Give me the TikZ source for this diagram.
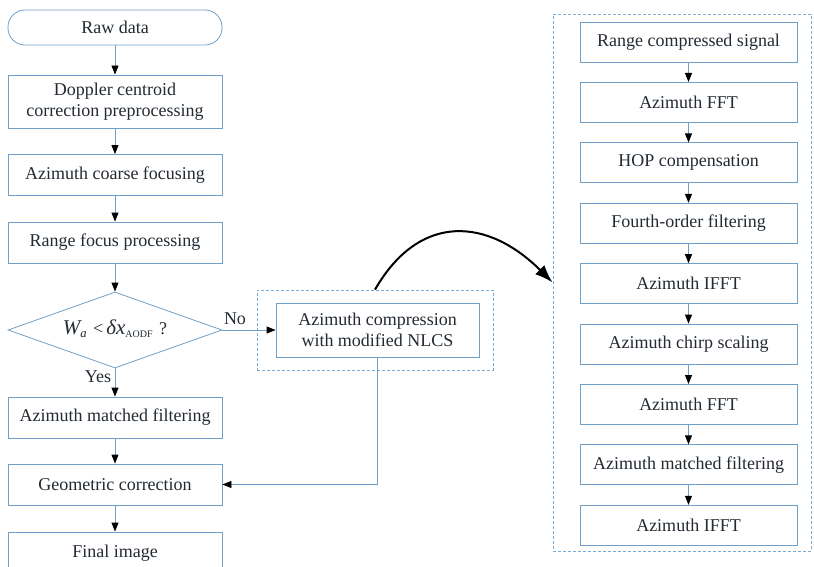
\documentclass[tikz,border=0pt]{standalone}
\usepackage{fontspec}
\setmainfont{Liberation Serif}
\usetikzlibrary{shapes.geometric,arrows.meta}
\definecolor{boxblue}{RGB}{112,160,200}
\definecolor{dashblue}{RGB}{125,170,210}
\definecolor{inkgray}{RGB}{35,42,50}

\begin{document}
\begin{tikzpicture}[x=1pt,y=-1pt,
  every node/.style={text=inkgray,font=\rmfamily\fontsize{18}{21}\selectfont},
  stepbox/.style={draw=boxblue,line width=0.8pt,minimum width=214pt,minimum height=41pt,inner sep=2pt,align=center},
  rbox/.style={stepbox,minimum width=217pt,minimum height=40pt},
  framebox/.style={draw=dashblue,line width=0.8pt,dashed,dash pattern=on 3pt off 2pt},
  flow/.style={draw=boxblue,line width=0.8pt,-{Triangle[color=black,length=9pt,width=7pt]}},
  jump/.style={draw=black,line width=2pt,-{Latex[length=18pt,width=13pt]}}]
\useasboundingbox (0,0) rectangle (814,567);

%%% main flow %%%%
%% boxes
\node[stepbox,rounded corners=17pt,minimum height=35pt] (raw) at (115,27.5) {Raw data};
\node[stepbox,minimum height=53pt] (doppler) at (115,101.5) {Doppler centroid\\correction preprocessing};
\node[stepbox] (coarse) at (115,175) {Azimuth coarse focusing};
\node[stepbox] (rangefoc) at (115,242.5) {Range focus processing};
\node[diamond,draw=boxblue,line width=0.8pt,minimum width=214pt,minimum height=76pt,inner sep=0pt] (cond) at (115,330) {};
\node (condtext) at (115,329) {{\fontsize{21}{21}\selectfont\itshape W}\textsubscript{\itshape a}\,\,<\,{\fontsize{21}{21}\selectfont\itshape δx}\textsubscript{\fontsize{10}{10}\selectfont AODF}\,\,?};
\node[stepbox] (azmf) at (115,417.5) {Azimuth matched filtering};
\node[stepbox] (geocorr) at (115,484.5) {Geometric correction};
\node[stepbox,minimum height=42pt] (final) at (115,553) {Final image};

%% labels
\node (yes) at (98,377) {Yes};
\node (no) at (235,319) {No};

%% edges
\draw[flow] (raw) -- (doppler);
\draw[flow] (doppler) -- (coarse);
\draw[flow] (coarse) -- (rangefoc);
\draw[flow] (rangefoc) -- (cond);
\draw[flow] (cond) -- (azmf);
\draw[flow] (azmf) -- (geocorr);
\draw[flow] (geocorr) -- (final);

%%% NLCS branch %%%%
\node[framebox,minimum width=236pt,minimum height=80pt] (nlcsframe) at (375,330) {};
\node[stepbox,minimum width=203pt,minimum height=54pt] (nlcs) at (377.5,330) {Azimuth compression\\with modified NLCS};
\draw[flow] (cond.east) -- (nlcs.west);
\draw[flow] (nlcs.south) |- (geocorr.east);

%%% detail %%%%
\node[framebox,minimum width=258pt,minimum height=537pt] (frame) at (682,282.5) {};
%% boxes
\node[rbox] (rcs) at (688.5,42) {Range compressed signal};
\node[rbox] (fft1) at (688.5,102.4) {Azimuth FFT};
\node[rbox] (hop) at (688.5,162.8) {HOP compensation};
\node[rbox] (fourth) at (688.5,223.2) {Fourth-order filtering};
\node[rbox] (ifft1) at (688.5,283.6) {Azimuth IFFT};
\node[rbox] (chirp) at (688.5,344) {Azimuth chirp scaling};
\node[rbox] (fft2) at (688.5,404.4) {Azimuth FFT};
\node[rbox] (azmf2) at (688.5,464.8) {Azimuth matched filtering};
\node[rbox] (ifft2) at (688.5,525.2) {Azimuth IFFT};
%% edges
\draw[flow] (rcs) -- (fft1);
\draw[flow] (fft1) -- (hop);
\draw[flow] (hop) -- (fourth);
\draw[flow] (fourth) -- (ifft1);
\draw[flow] (ifft1) -- (chirp);
\draw[flow] (chirp) -- (fft2);
\draw[flow] (fft2) -- (azmf2);
\draw[flow] (azmf2) -- (ifft2);

%% jump
\draw[jump] (nlcsframe.north) to[out=60,in=135,looseness=1.3] (frame.west);

\end{tikzpicture}
\end{document}
